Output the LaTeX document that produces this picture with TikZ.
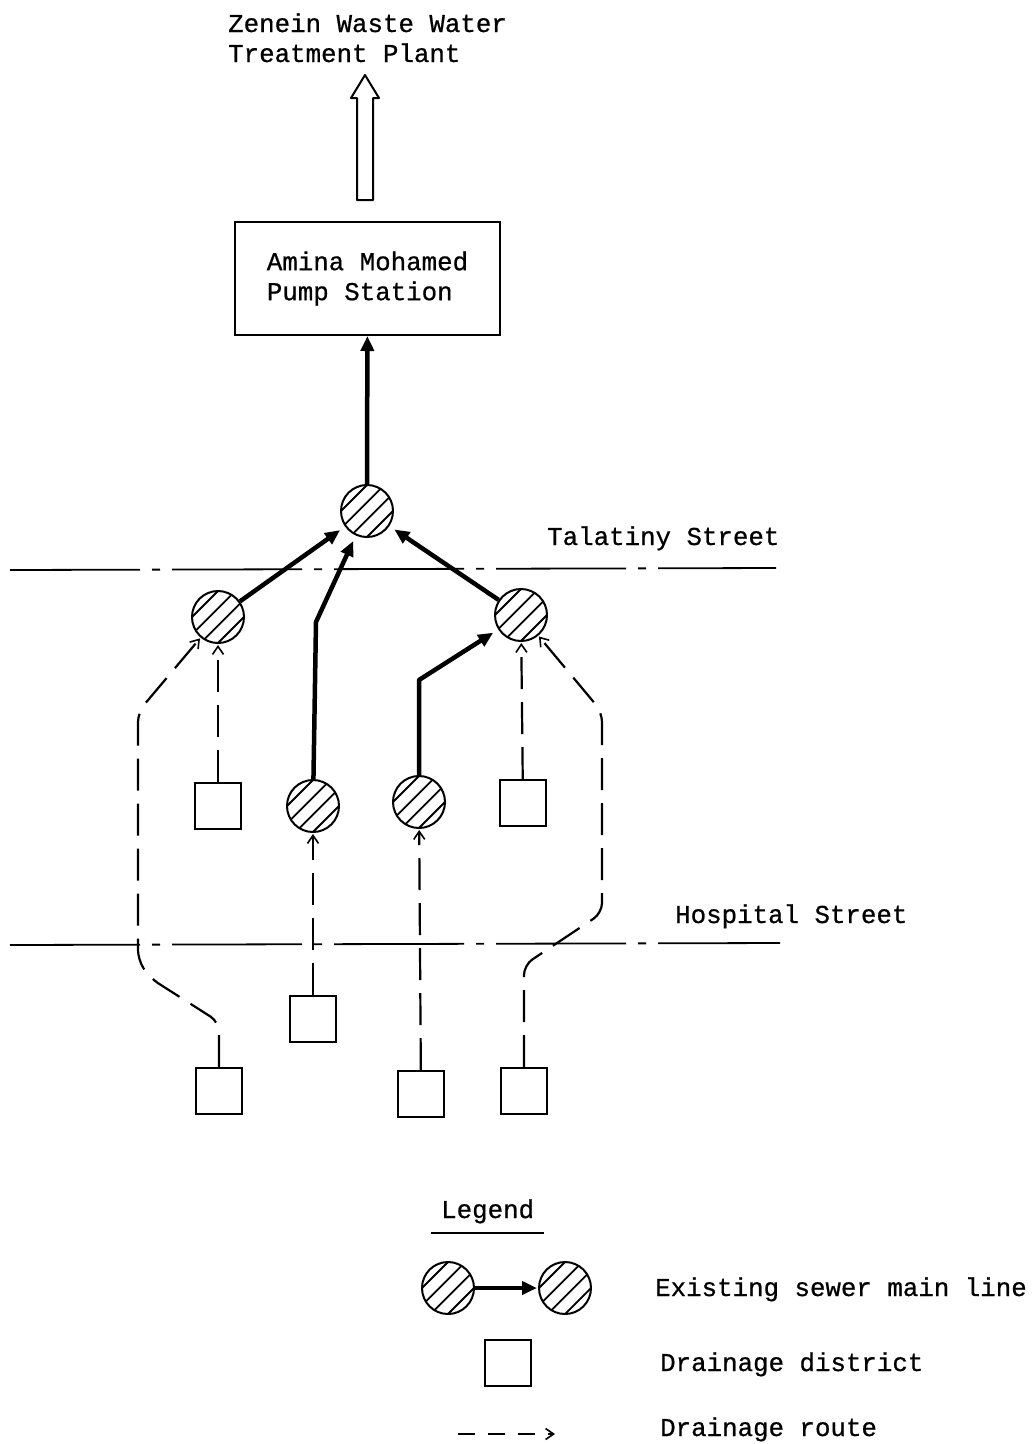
\documentclass[tikz,border=0pt]{standalone}
\usepackage{fontspec}
\setmainfont{Liberation Mono}[AutoFakeBold=0.7]
\usetikzlibrary{arrows.meta,calc}
\tikzset{
  tfont/.style={font=\fontsize{25.8}{30}\selectfont\bfseries},
  txt/.style={tfont, inner sep=0pt, anchor=base west},
  hc/.style={circle, draw, line width=2pt, minimum size=52pt, inner sep=0pt,
    path picture={
      \foreach \a/\b in {-13/13,-4.3/4.3,4.3/-4.3,13/-13}{
        \draw[line width=1.8pt] ([shift={(\a pt,\b pt)}]path picture bounding box.center) ++(-30pt,-30pt) -- ++(60pt,60pt);
      }}},
  dist/.style={draw, line width=2pt, minimum size=46pt, inner sep=0pt},
  mainln/.style={line width=4.5pt, line join=round, -{Triangle[length=15pt,width=13pt]}, shorten >=6pt},
  route/.style={line width=2.2pt, dash pattern=on 32pt off 13pt, rounded corners=10pt,
    -{Straight Barb[length=8pt,width=11pt,line width=1.6pt]}, shorten >=1pt},
  street/.style={line width=1.8pt, dash pattern=on 130pt off 12pt on 8pt off 12pt}
}
\begin{document}
\begin{tikzpicture}[x=1pt,y=-1pt]
\useasboundingbox (0,0) rectangle (1035,1444);
% title
\node[txt] (t1) at (228,32) {Zenein Waste Water};
\node[txt] (t2) at (228,62) {Treatment Plant};
% hollow arrow
\draw[line width=2pt, line join=round] (357,200) -- (357,98) -- (351,98) -- (365,75) -- (379,98) -- (373,98) -- (373,200) -- cycle;
% pump station
\node[draw, line width=2pt, minimum width=265pt, minimum height=113pt, align=left,
      tfont] (pump) at (367.5,278.5) {Amina Mohamed\\Pump Station};
% streets
\coordinate (ts1) at (10,570); \coordinate (ts2) at (776,568);
\draw[street] (ts1) -- (ts2);
\node[txt] (tal) at (547,545) {Talatiny Street};
\coordinate (hs1) at (10,945); \coordinate (hs2) at (780,943);
\draw[street] (hs1) -- (hs2);
\node[txt] (hos) at (675,923) {Hospital Street};
% manholes
\node[hc] (T) at (367,511) {};
\node[hc] (L) at (218,617) {};
\node[hc] (R) at (521,615) {};
\node[hc] (M1) at (313,806) {};
\node[hc] (M2) at (419,802) {};
% districts
\node[dist] (S1) at (218,806) {};
\node[dist] (S2) at (523,803) {};
\node[dist] (S3) at (313,1019) {};
\node[dist] (S4) at (219,1091) {};
\node[dist] (S5) at (421,1094) {};
\node[dist] (S6) at (524,1091) {};
% main lines
\draw[mainln, shorten >=0pt] (T) -- (pump);
\draw[mainln] (L) -- (T);
\coordinate (b1) at (316,622);
\draw[mainln] (M1) -- (b1) -- (T);
\draw[mainln] (R) -- (T);
\coordinate (b2) at (419,680);
\draw[mainln] (M2) -- (b2) -- (R);
% drainage routes
\draw[route] (S1) -- (L);
\draw[route] (S2) -- (R);
\draw[route] (S3) -- (M1);
\draw[route] (S5) -- (M2);
\coordinate (l1) at (219,1022); \coordinate (l2) at (150,978);
\coordinate (l3) at (138,960); \coordinate (l4) at (138,712);
\draw[route] (S4.north) -- (l1) -- (l2) -- (l3) -- (l4) -- (L);
\coordinate (r1) at (524,965); \coordinate (r2) at (602,913);
\coordinate (r3) at (602,712);
\draw[route] (S6.north) -- (r1) -- (r2) -- (r3) -- (R);
% legend
\node[txt] (leg) at (441,1218) {Legend};
\draw[line width=1.4pt] ($(leg.base west)+(-10,15)$) -- ($(leg.base east)+(10,15)$);
\node[hc] (lg1) at (448,1288) {};
\node[hc] (lg2) at (565,1288) {};
\draw[mainln, shorten >=1pt] (lg1) -- (lg2);
\node[txt] (lt1) at (655,1296) {Existing sewer main line};
\node[dist] (lgs) at (508,1363) {};
\node[txt] (lt2) at (660,1371) {Drainage district};
\coordinate (lr1) at (458,1434); \coordinate (lr2) at (556,1434);
\draw[route, dash pattern=on 17pt off 13pt] (lr1) -- (lr2);
\node[txt] (lt3) at (660,1436) {Drainage route};
\end{tikzpicture}
\end{document}
